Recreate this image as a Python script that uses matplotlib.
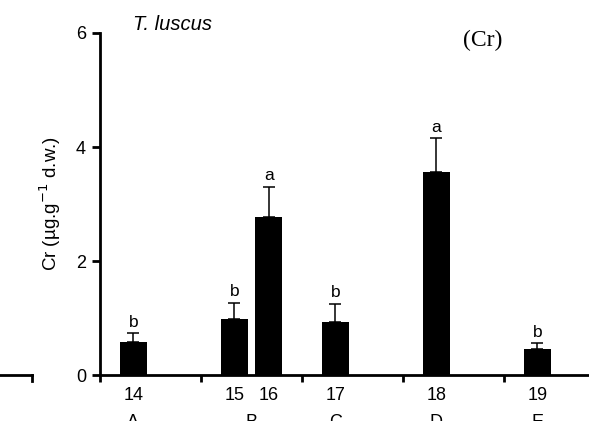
import numpy as np
import matplotlib.pyplot as plt
from matplotlib.lines import Line2D

plt.rcParams['font.family'] = ['Liberation Sans', 'DejaVu Sans']

# data
sites = ['14', '15', '16', '17', '18', '19']
site_pos = [0.33, 1.33, 1.67, 2.33, 3.33, 4.33]
cr_mean = [0.58, 0.99, 2.78, 0.93, 3.57, 0.45]
cr_se = [0.15, 0.28, 0.52, 0.32, 0.58, 0.11]
sig = ['b', 'b', 'a', 'b', 'a', 'b']
groups = ['A', 'B', 'C', 'D', 'E']
group_pos = [0.33, 1.5, 2.33, 3.33, 4.33]

W, H = 589, 421
fig = plt.figure(figsize=(W/100, H/100), dpi=100)
ax = fig.add_axes([100/W, 46/H, 505/W, 342/H])

ax.bar(site_pos, cr_mean, width=0.27, color='black', zorder=2)
ax.errorbar(site_pos, cr_mean, yerr=[np.zeros(len(cr_se)), cr_se], fmt='none',
            ecolor='black', elinewidth=1.1, capsize=4, capthick=1.1, zorder=1)
for x, m, e, s in zip(site_pos, cr_mean, cr_se, sig):
    ax.annotate(s, (x, m+e), xytext=(0, 2.5), textcoords='offset points',
                ha='center', va='bottom', fontsize=12.5)

ax.set_xlim(0, 5)
ax.set_ylim(0, 6)
ax.set_yticks([0, 2, 4, 6])
ax.tick_params(axis='y', labelsize=13, width=2, length=6, pad=4)
ax.set_xticks([0, 1, 2, 3, 4, 5])
ax.set_xticklabels([])
ax.tick_params(axis='x', which='major', width=2, length=5)
ax.set_xticks(site_pos, minor=True)
ax.set_xticklabels(sites, minor=True)
ax.tick_params(axis='x', which='minor', length=0, labelsize=13, pad=9)
for sp in ['top', 'right']:
    ax.spines[sp].set_visible(False)
for sp in ['left', 'bottom']:
    ax.spines[sp].set_linewidth(2)

for x, g in zip(group_pos, groups):
    ax.text(x, -0.115, g, transform=ax.get_xaxis_transform(), ha='center',
            va='top', fontsize=13)

ax.set_ylabel('Cr (µg.g$^{-1}$ d.w.)', fontsize=13.5, labelpad=9)

fig.text(133/W, 1 - 25/H, 'T. luscus', style='italic', fontsize=14.5, va='center')
fig.text(483/W, 1 - 40/H, '(Cr)', family='Liberation Serif', fontsize=17,
         ha='center', va='center')

# edge of the neighbouring panel
fig.add_artist(Line2D([0, 32/W], [46/H, 46/H], color='black', lw=2))
fig.add_artist(Line2D([32/W, 32/W], [46/H, 40/H], color='black', lw=2))

fig.savefig('out.png', dpi=100)
